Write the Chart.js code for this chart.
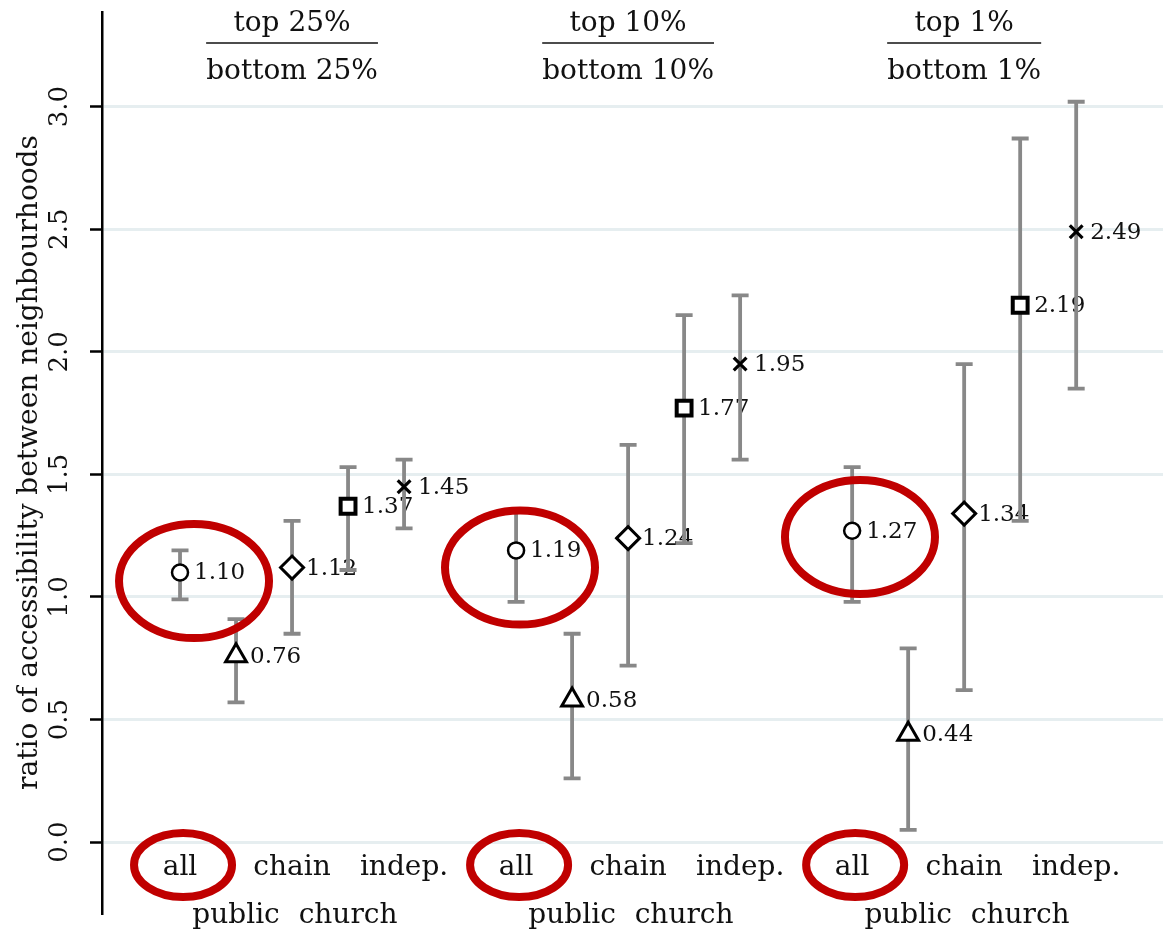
<!DOCTYPE html>
<html>
<head>
<meta charset="utf-8">
<script src="https://cdn.jsdelivr.net/npm/chart.js@4.4.1/dist/chart.umd.min.js"></script>
<style>
  html, body { margin: 0; padding: 0; background: #fff; overflow: hidden; }
  #wrap { position: relative; width: 1163px; height: 935px; }
  canvas { display: block; }
</style>
</head>
<body>
<div id="wrap"><canvas id="chart"></canvas></div>
<script>
// groups (top / bottom share) and neighbourhood categories
const groupTop = ['top 25%', 'top 10%', 'top 1%'];
const groupBottom = ['bottom 25%', 'bottom 10%', 'bottom 1%'];
const categories = ['all', 'public', 'chain', 'church', 'indep.'];
const yTicks = [0, 0.5, 1, 1.5, 2, 2.5, 3];

// point estimates and confidence bounds, per group (same order as categories)
const ratio25 = [1.10, 0.76, 1.12, 1.37, 1.45];
const lower25 = [0.99, 0.57, 0.85, 1.11, 1.28];
const upper25 = [1.19, 0.91, 1.31, 1.53, 1.56];

const ratio10 = [1.19, 0.58, 1.24, 1.77, 1.95];
const lower10 = [0.98, 0.26, 0.72, 1.22, 1.56];
const upper10 = [1.35, 0.85, 1.62, 2.15, 2.23];

const ratio1 = [1.27, 0.44, 1.34, 2.19, 2.49];
const lower1 = [0.98, 0.05, 0.62, 1.31, 1.85];
const upper1 = [1.53, 0.79, 1.95, 2.87, 3.02];

const ratios = [ratio25, ratio10, ratio1];
const lowers = [lower25, lower10, lower1];
const uppers = [upper25, upper10, upper1];

const FONT = "'DejaVu Serif', serif";
const markers = [
  { style: 'circle', radius: 8, width: 2.5 },
  { style: 'triangle', radius: 12, width: 3 },
  { style: 'rectRot', radius: 11.5, width: 3 },
  { style: 'rect', radius: 10.5, width: 4 },
  { style: 'crossRot', radius: 9, width: 3.2 }
];

// slot on the x axis: 5 categories per group, one empty slot between groups
const xPos = (g, c) => g * 6 + c;

const datasets = categories.map((cat, c) => ({
  label: cat,
  data: ratios.map((vals, g) => ({ x: xPos(g, c), y: vals[c], lo: lowers[g][c], hi: uppers[g][c] })),
  pointStyle: markers[c].style,
  pointRadius: markers[c].radius,
  pointHoverRadius: markers[c].radius,
  pointBorderWidth: markers[c].width,
  pointBorderColor: '#000',
  pointBackgroundColor: '#fff',
  showLine: false,
  order: categories.length - c   // later categories drawn on top
}));

// error bars under each series, value labels above it
const errorBars = {
  id: 'errorBars',
  beforeDatasetDraw(chart, args) {
    const { ctx, scales: { x, y } } = chart;
    const ds = chart.data.datasets[args.index];
    ctx.save();
    ctx.strokeStyle = '#888';
    ctx.lineWidth = 3.8;
    ds.data.forEach(p => {
      const px = x.getPixelForValue(p.x);
      const top = y.getPixelForValue(p.hi);
      const bot = y.getPixelForValue(p.lo);
      ctx.beginPath();
      ctx.moveTo(px, top); ctx.lineTo(px, bot);
      ctx.moveTo(px - 8.5, top); ctx.lineTo(px + 8.5, top);
      ctx.moveTo(px - 8.5, bot); ctx.lineTo(px + 8.5, bot);
      ctx.stroke();
    });
    ctx.restore();
  },
  afterDatasetDraw(chart, args) {
    const { ctx, scales: { x, y } } = chart;
    const ds = chart.data.datasets[args.index];
    ctx.save();
    ctx.fillStyle = '#111';
    ctx.font = '23px ' + FONT;
    ctx.textAlign = 'left';
    ctx.textBaseline = 'middle';
    ds.data.forEach(p => {
      ctx.fillText(p.y.toFixed(2), x.getPixelForValue(p.x) + 14, y.getPixelForValue(p.y) + 1);
    });
    ctx.restore();
  }
};

// headers, category labels and red highlight rings
const decorations = {
  id: 'decorations',
  afterDraw(chart) {
    const { ctx, chartArea, scales: { x, y } } = chart;
    ctx.save();
    ctx.fillStyle = '#111';
    ctx.textAlign = 'center';
    ctx.textBaseline = 'middle';
    ctx.font = '28px ' + FONT;

    groupTop.forEach((t, g) => {
      const cx = x.getPixelForValue(xPos(g, 2));
      const w = ctx.measureText(groupBottom[g]).width;
      ctx.fillText(t, cx, chartArea.top + 12);
      ctx.fillText(groupBottom[g], cx, chartArea.top + 60);
      ctx.strokeStyle = '#111';
      ctx.lineWidth = 1.5;
      ctx.beginPath();
      ctx.moveTo(cx - w / 2, chartArea.top + 31);
      ctx.lineTo(cx + w / 2, chartArea.top + 31);
      ctx.stroke();
    });

    groupTop.forEach((t, g) => {
      categories.forEach((cat, c) => {
        const px = x.getPixelForValue(xPos(g, c));
        const py = c % 2 === 0 ? chartArea.bottom - 45 : chartArea.bottom + 3;
        ctx.fillText(cat, px, py);
      });
    });

    ctx.strokeStyle = '#c00000';
    ctx.lineWidth = 8;
    const rings = [
      { x: 0.25, y: 1.065 }, { x: 6.07, y: 1.12 }, { x: 12.14, y: 1.245 }
    ];
    rings.forEach(r => {
      ctx.beginPath();
      ctx.ellipse(x.getPixelForValue(r.x), y.getPixelForValue(r.y), 75, 57, 0, 0, Math.PI * 2);
      ctx.stroke();
    });
    groupTop.forEach((t, g) => {
      const px = x.getPixelForValue(xPos(g, 0));
      ctx.beginPath();
      ctx.ellipse(px + 3, chartArea.bottom - 48, 49, 32, 0, 0, Math.PI * 2);
      ctx.stroke();
    });
    ctx.restore();
  }
};

new Chart(document.getElementById('chart'), {
  type: 'scatter',
  data: { datasets },
  options: {
    responsive: true,
    maintainAspectRatio: false,
    animation: false,
    layout: { autoPadding: false, padding: { top: 12, bottom: 22, right: 0, left: 0 } },
    plugins: { legend: { display: false }, tooltip: { enabled: false } },
    scales: {
      x: { type: 'linear', display: false, min: -1.393, max: 17.55 },
      y: {
        min: -0.289,
        max: 3.386,
        afterBuildTicks: s => { s.ticks = yTicks.map(v => ({ value: v })); },
        afterFit: s => { s.width = 102; s.paddingTop = 0; s.paddingBottom = 0; },
        ticks: {
          callback: v => v.toFixed(1),
          font: { family: FONT, size: 26 },
          color: '#111',
          minRotation: 90,
          maxRotation: 90,
          crossAlign: 'center',
          padding: 9
        },
        grid: { color: '#e6eef0', lineWidth: 3, tickColor: '#000', tickLength: 12, tickWidth: 2.5 },
        border: { color: '#000', width: 2.5 },
        title: {
          display: true,
          text: 'ratio of accessibility between neighbourhoods',
          font: { family: FONT, size: 28 },
          color: '#111',
          padding: { top: 13, bottom: 0 }
        }
      }
    }
  },
  plugins: [errorBars, decorations]
});
</script>
</body>
</html>
